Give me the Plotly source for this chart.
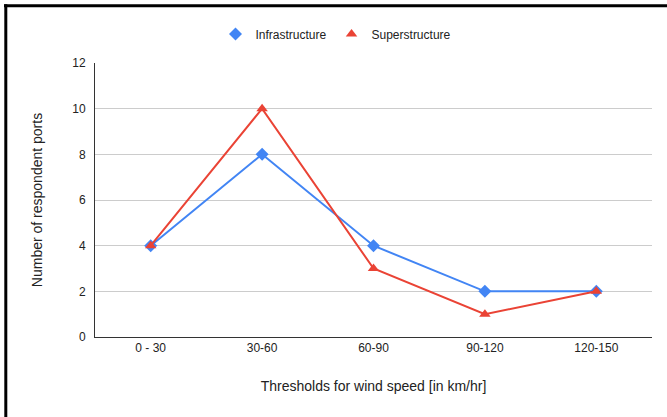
import plotly.graph_objects as go

categories = ["0 - 30", "30-60", "60-90", "90-120", "120-150"]
infrastructure = [4, 8, 4, 2, 2]
superstructure = [4, 10, 3, 1, 2]
y_ticks = [0, 2, 4, 6, 8, 10, 12]

W, H = 667, 417
L, R, T, B = 95, 15, 63, 80
pw, ph = W - L - R, H - T - B

def px(x):
    return (x - L) / pw

def py(y):
    return (H - B - y) / ph

series = [("Infrastructure", infrastructure, "#4285F4", "diamond"),
          ("Superstructure", superstructure, "#EA4335", "triangle-up")]

fig = go.Figure()
for name, vals, color, sym in series:
    fig.add_trace(go.Scatter(
        x=categories, y=vals, name=name, mode="lines+markers", showlegend=False,
        legendgroup=name,
        line=dict(color=color, width=2),
        marker=dict(symbol=sym, size=10, color=color),
    ))
for name, vals, color, sym in series:
    fig.add_trace(go.Scatter(
        x=[None], y=[None], name=name, mode="markers", legendgroup=name,
        marker=dict(symbol=sym, size=10, color=color),
    ))

font = "Liberation Sans, Arial, sans-serif"
fig.update_layout(
    width=W, height=H,
    margin=dict(l=L, r=R, t=T, b=B),
    paper_bgcolor="white", plot_bgcolor="white",
    font=dict(family=font, size=12, color="#222222"),
    showlegend=True,
    legend=dict(orientation="h", x=px(336), xanchor="center", y=py(34), yanchor="middle",
                font=dict(size=12, color="#222222"), itemwidth=30),
    xaxis=dict(
        type="category", range=[-0.5, 4.5], showgrid=False,
        showline=True, linecolor="#333333", linewidth=1,
        ticks="", tickfont=dict(size=12, color="#222222"),
        title=dict(text="Thresholds for wind speed [in km/hr]", font=dict(size=14, color="#222222"), standoff=26),
    ),
    yaxis=dict(
        range=[0, 12], tickvals=y_ticks, showgrid=True, gridcolor="#cccccc", gridwidth=1,
        showline=True, linecolor="#333333", linewidth=1, zeroline=False,
        ticks="", tickfont=dict(size=12, color="#222222"), ticklabelstandoff=6,
        title=dict(text="Number of respondent ports", font=dict(size=14, color="#222222"), standoff=26),
    ),
    shapes=[
        dict(type="line", xref="paper", yref="paper", x0=px(4), x1=px(667), y0=py(5.8), y1=py(5.8),
             line=dict(color="black", width=3)),
        dict(type="line", xref="paper", yref="paper", x0=px(5.8), x1=px(5.8), y0=py(4.3), y1=py(417),
             line=dict(color="black", width=3)),
    ],
)

fig.write_html("out.html")
